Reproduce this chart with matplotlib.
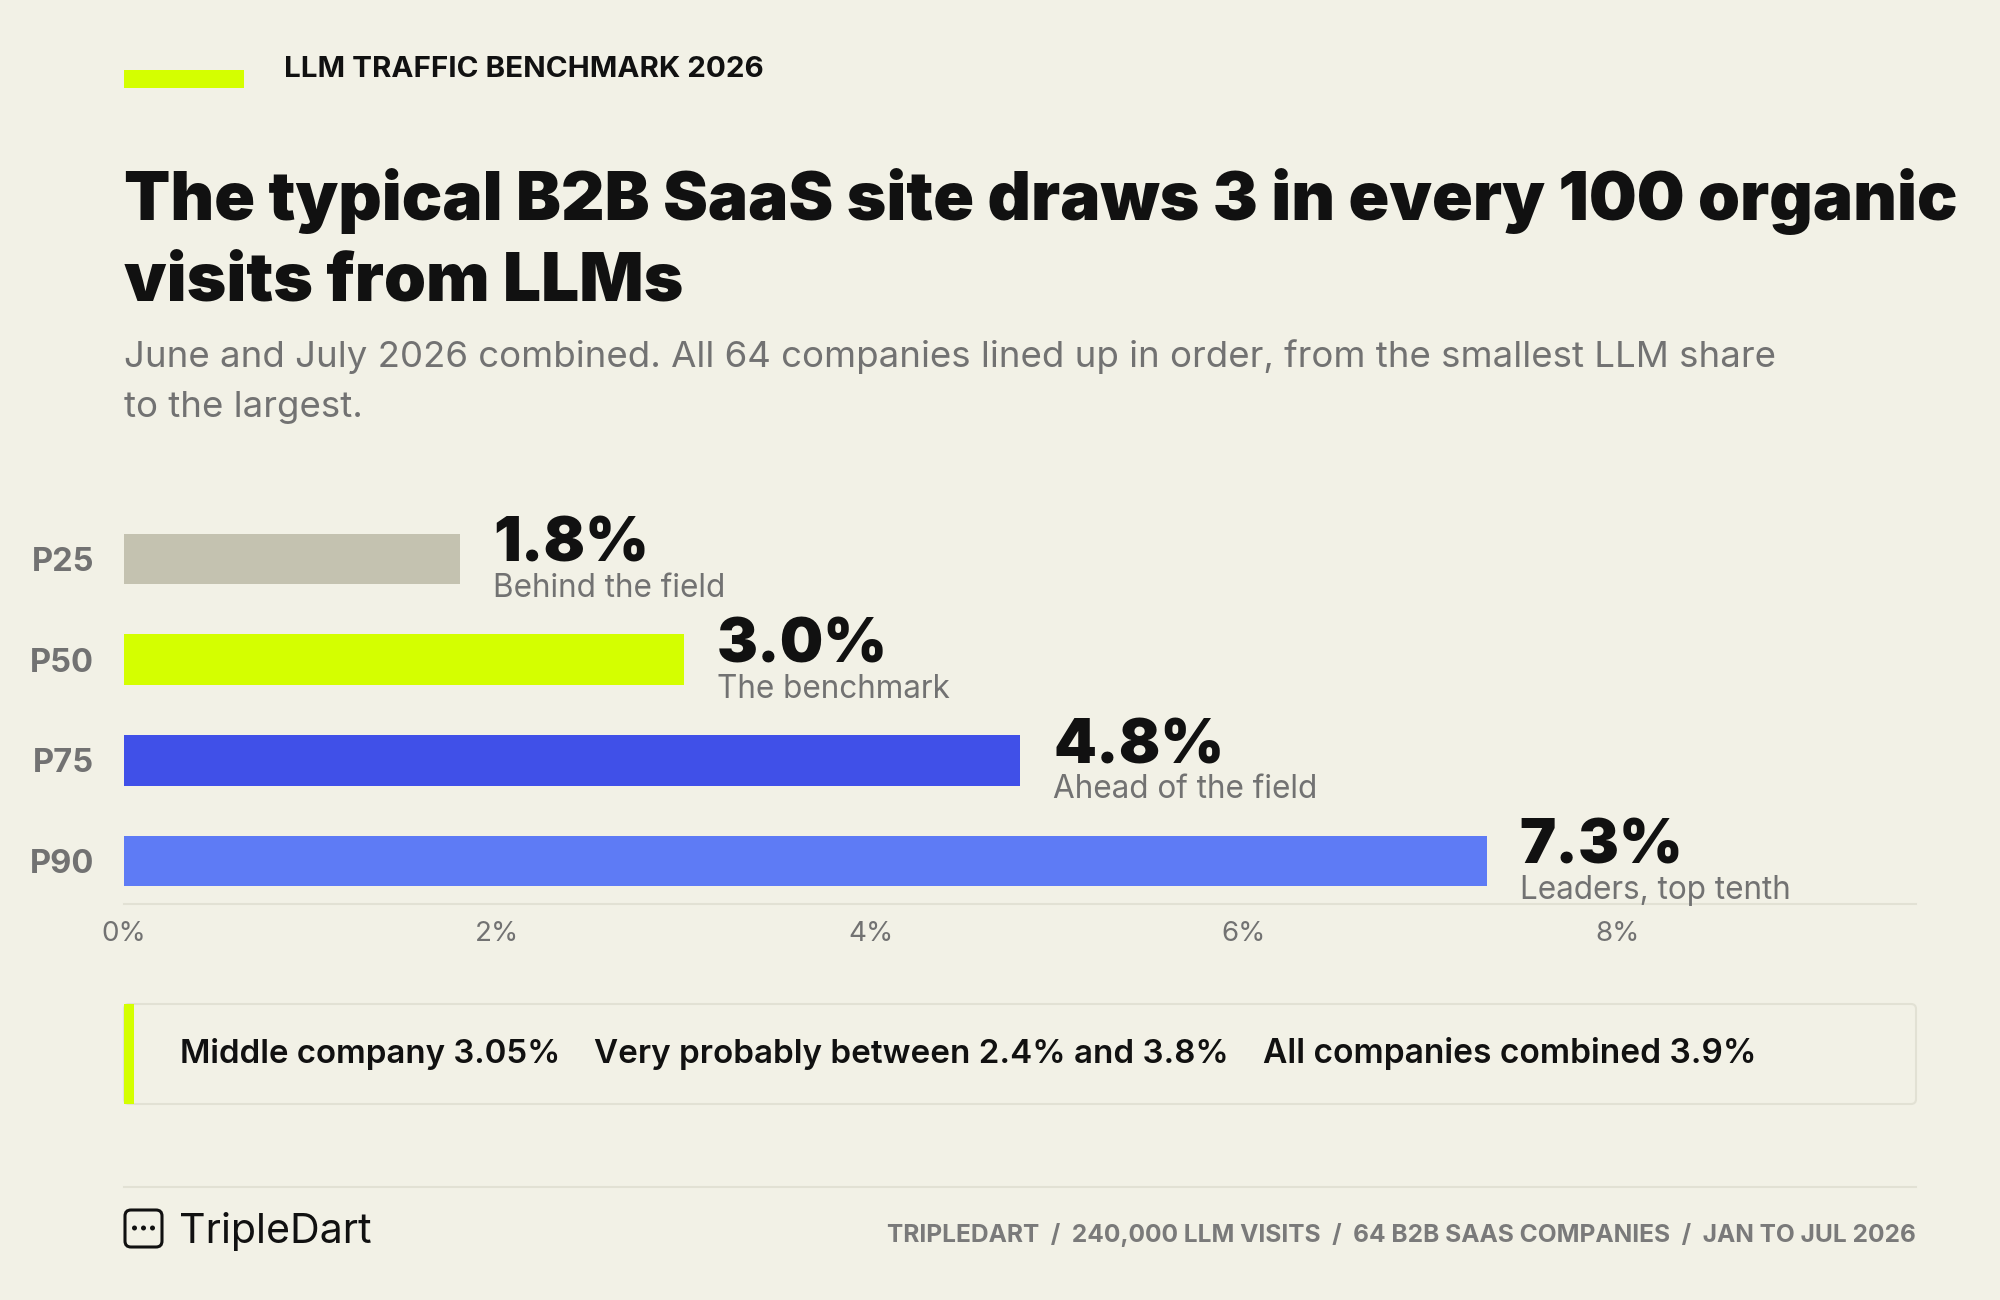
import matplotlib
matplotlib.use("Agg")
import matplotlib.pyplot as plt  # noqa: E402
from matplotlib.patches import FancyBboxPatch, Rectangle, Circle  # noqa: E402
from matplotlib.lines import Line2D  # noqa: E402

# ---------------------------------------------------------------------------
# data
# ---------------------------------------------------------------------------
labels = ["P25", "P50", "P75", "P90"]
values = [1.8, 3.0, 4.8, 7.3]
notes = ["Behind the field", "The benchmark", "Ahead of the field", "Leaders, top tenth"]
xticks = [0, 2, 4, 6, 8]
xtick_labels = ["0%", "2%", "4%", "6%", "8%"]
stats = ["Middle company 3.05%",
         "Very probably between 2.4% and 3.8%",
         "All companies combined 3.9%"]
kicker = "LLM TRAFFIC BENCHMARK 2026"
title_lines = ["The typical B2B SaaS site draws 3 in every 100 organic",
               "visits from LLMs"]
subtitle_lines = ["June and July 2026 combined. All 64 companies lined up in order, "
                  "from the smallest LLM share",
                  "to the largest."]
footer = "TRIPLEDART  /  240,000 LLM VISITS  /  64 B2B SAAS COMPANIES  /  JAN TO JUL 2026"
brand = "TripleDart"

# ---------------------------------------------------------------------------
# style
# ---------------------------------------------------------------------------
W, H = 2000, 1300
BG = "#F2F1E6"
INK = "#111111"
GREY = "#727272"
RULE = "#E2E1D4"
LIME = "#D4FF00"
bar_colors = ["#C4C2B0", LIME, "#4050E8", "#5E7BF5"]

plt.rcParams["font.family"] = ["Inter", "DejaVu Sans"]

fig = plt.figure(figsize=(W / 100, H / 100), dpi=100, facecolor=BG)
renderer = fig.canvas.get_renderer()


def fx(x):
    return x / W


def fy(y):
    return 1 - y / H


def fit(t, target):
    w = t.get_window_extent(renderer).width
    t.set_fontsize(t.get_fontsize() * target / w)
    return t


def text_px(x, y, s, size, target=None, **kw):
    t = fig.text(fx(x), fy(y), s, fontsize=size, va="baseline", **kw)
    if target:
        fit(t, target)
    return t


def box_in(x0, y0, x1, y1):
    # pixel box (top-down) -> inches box for dpi_scale_trans
    return x0 / 100, (H - y1) / 100, (x1 - x0) / 100, (y1 - y0) / 100


# ---------------------------------------------------------------------------
# header
# ---------------------------------------------------------------------------
x0, y0, w0, h0 = box_in(124, 70, 244, 88)
fig.add_artist(Rectangle((x0, y0), w0, h0, transform=fig.dpi_scale_trans,
                         fc=LIME, ec="none"))
text_px(284, 77, kicker, 20, target=480, color=INK, fontweight="bold")

t1 = text_px(124, 220, title_lines[0], 50, target=1835, color=INK, fontweight="black")
text_px(124, 300, title_lines[1], t1.get_fontsize(), color=INK, fontweight="black")

s1 = text_px(124, 367, subtitle_lines[0], 24, target=1653, color=GREY)
text_px(124, 417, subtitle_lines[1], s1.get_fontsize(), color=GREY)

# ---------------------------------------------------------------------------
# bars
# ---------------------------------------------------------------------------
ax = fig.add_axes([fx(124), fy(904), (1916 - 124) / W, (904 - 508.6) / H])
ax.set_facecolor("none")
ypos = list(range(len(labels)))
ax.barh(ypos, values, height=0.5, color=bar_colors)
ax.set_xlim(0, 9.6)
ax.set_ylim(3.426, -0.5)
for side in ["top", "right", "left"]:
    ax.spines[side].set_visible(False)
ax.spines["bottom"].set_color(RULE)
ax.spines["bottom"].set_linewidth(1.5)
ax.set_xticks(xticks)
ax.set_xticklabels(xtick_labels, fontsize=20, color=GREY)
ax.set_yticks(ypos)
ax.set_yticklabels(labels, fontsize=23.5, color=GREY, fontweight="bold")
ax.tick_params(axis="x", length=0, pad=12)
ax.tick_params(axis="y", length=0, pad=21.6)

big = None
small = None
for i, (v, note) in enumerate(zip(values, notes)):
    tv = ax.annotate(f"{v:.1f}%", xy=(v, i), xytext=(23.8, -2.0),
                     textcoords="offset points", va="baseline", ha="left",
                     fontsize=48, fontweight="black", color=INK)
    tn = ax.annotate(note, xy=(v, i), xytext=(23.8, -27.4),
                     textcoords="offset points", va="baseline", ha="left",
                     fontsize=22, color=GREY)
    if big is None:
        big = fit(tv, 156).get_fontsize()
        small = fit(tn, 233).get_fontsize()
    else:
        tv.set_fontsize(big)
        tn.set_fontsize(small)

# ---------------------------------------------------------------------------
# stat strip
# ---------------------------------------------------------------------------
x0, y0, w0, h0 = box_in(124, 1004, 1916, 1104)
fig.add_artist(FancyBboxPatch((x0, y0), w0, h0, transform=fig.dpi_scale_trans,
                              boxstyle="round,pad=0,rounding_size=0.05",
                              fc="none", ec=RULE, lw=1.5))
x0, y0, w0, h0 = box_in(124, 1004, 134, 1104)
fig.add_artist(Rectangle((x0, y0), w0, h0, transform=fig.dpi_scale_trans,
                         fc=LIME, ec="none"))

# start and end of each stat as measured on the reference
stat_spans = [(180, 561), (594, 1228), (1263, 1756)]
for s, (a, b) in zip(stats, stat_spans):
    text_px(a, 1063, s, 24, target=b - a, color=INK, fontweight="semibold")

# ---------------------------------------------------------------------------
# footer
# ---------------------------------------------------------------------------
fig.add_artist(Line2D([fx(124), fx(1916)], [fy(1187), fy(1187)],
                      transform=fig.transFigure, color=RULE, lw=1.5))

x0, y0, w0, h0 = box_in(125, 1210, 162, 1247)
fig.add_artist(FancyBboxPatch((x0, y0), w0, h0, transform=fig.dpi_scale_trans,
                              boxstyle="round,pad=0,rounding_size=0.06",
                              fc="none", ec=INK, lw=2.2))
for dx in [134.5, 143.5, 152.5]:
    fig.add_artist(Circle((dx / 100, (H - 1228) / 100), 0.025,
                          transform=fig.dpi_scale_trans, fc=INK, ec="none"))
text_px(179, 1243, brand, 30, target=193, color=INK)

text_px(1916, 1242, footer, 17, target=1028, color="#7A7A7A",
        fontweight="bold", ha="right")

fig.savefig("out.png", dpi=100, facecolor=BG)
